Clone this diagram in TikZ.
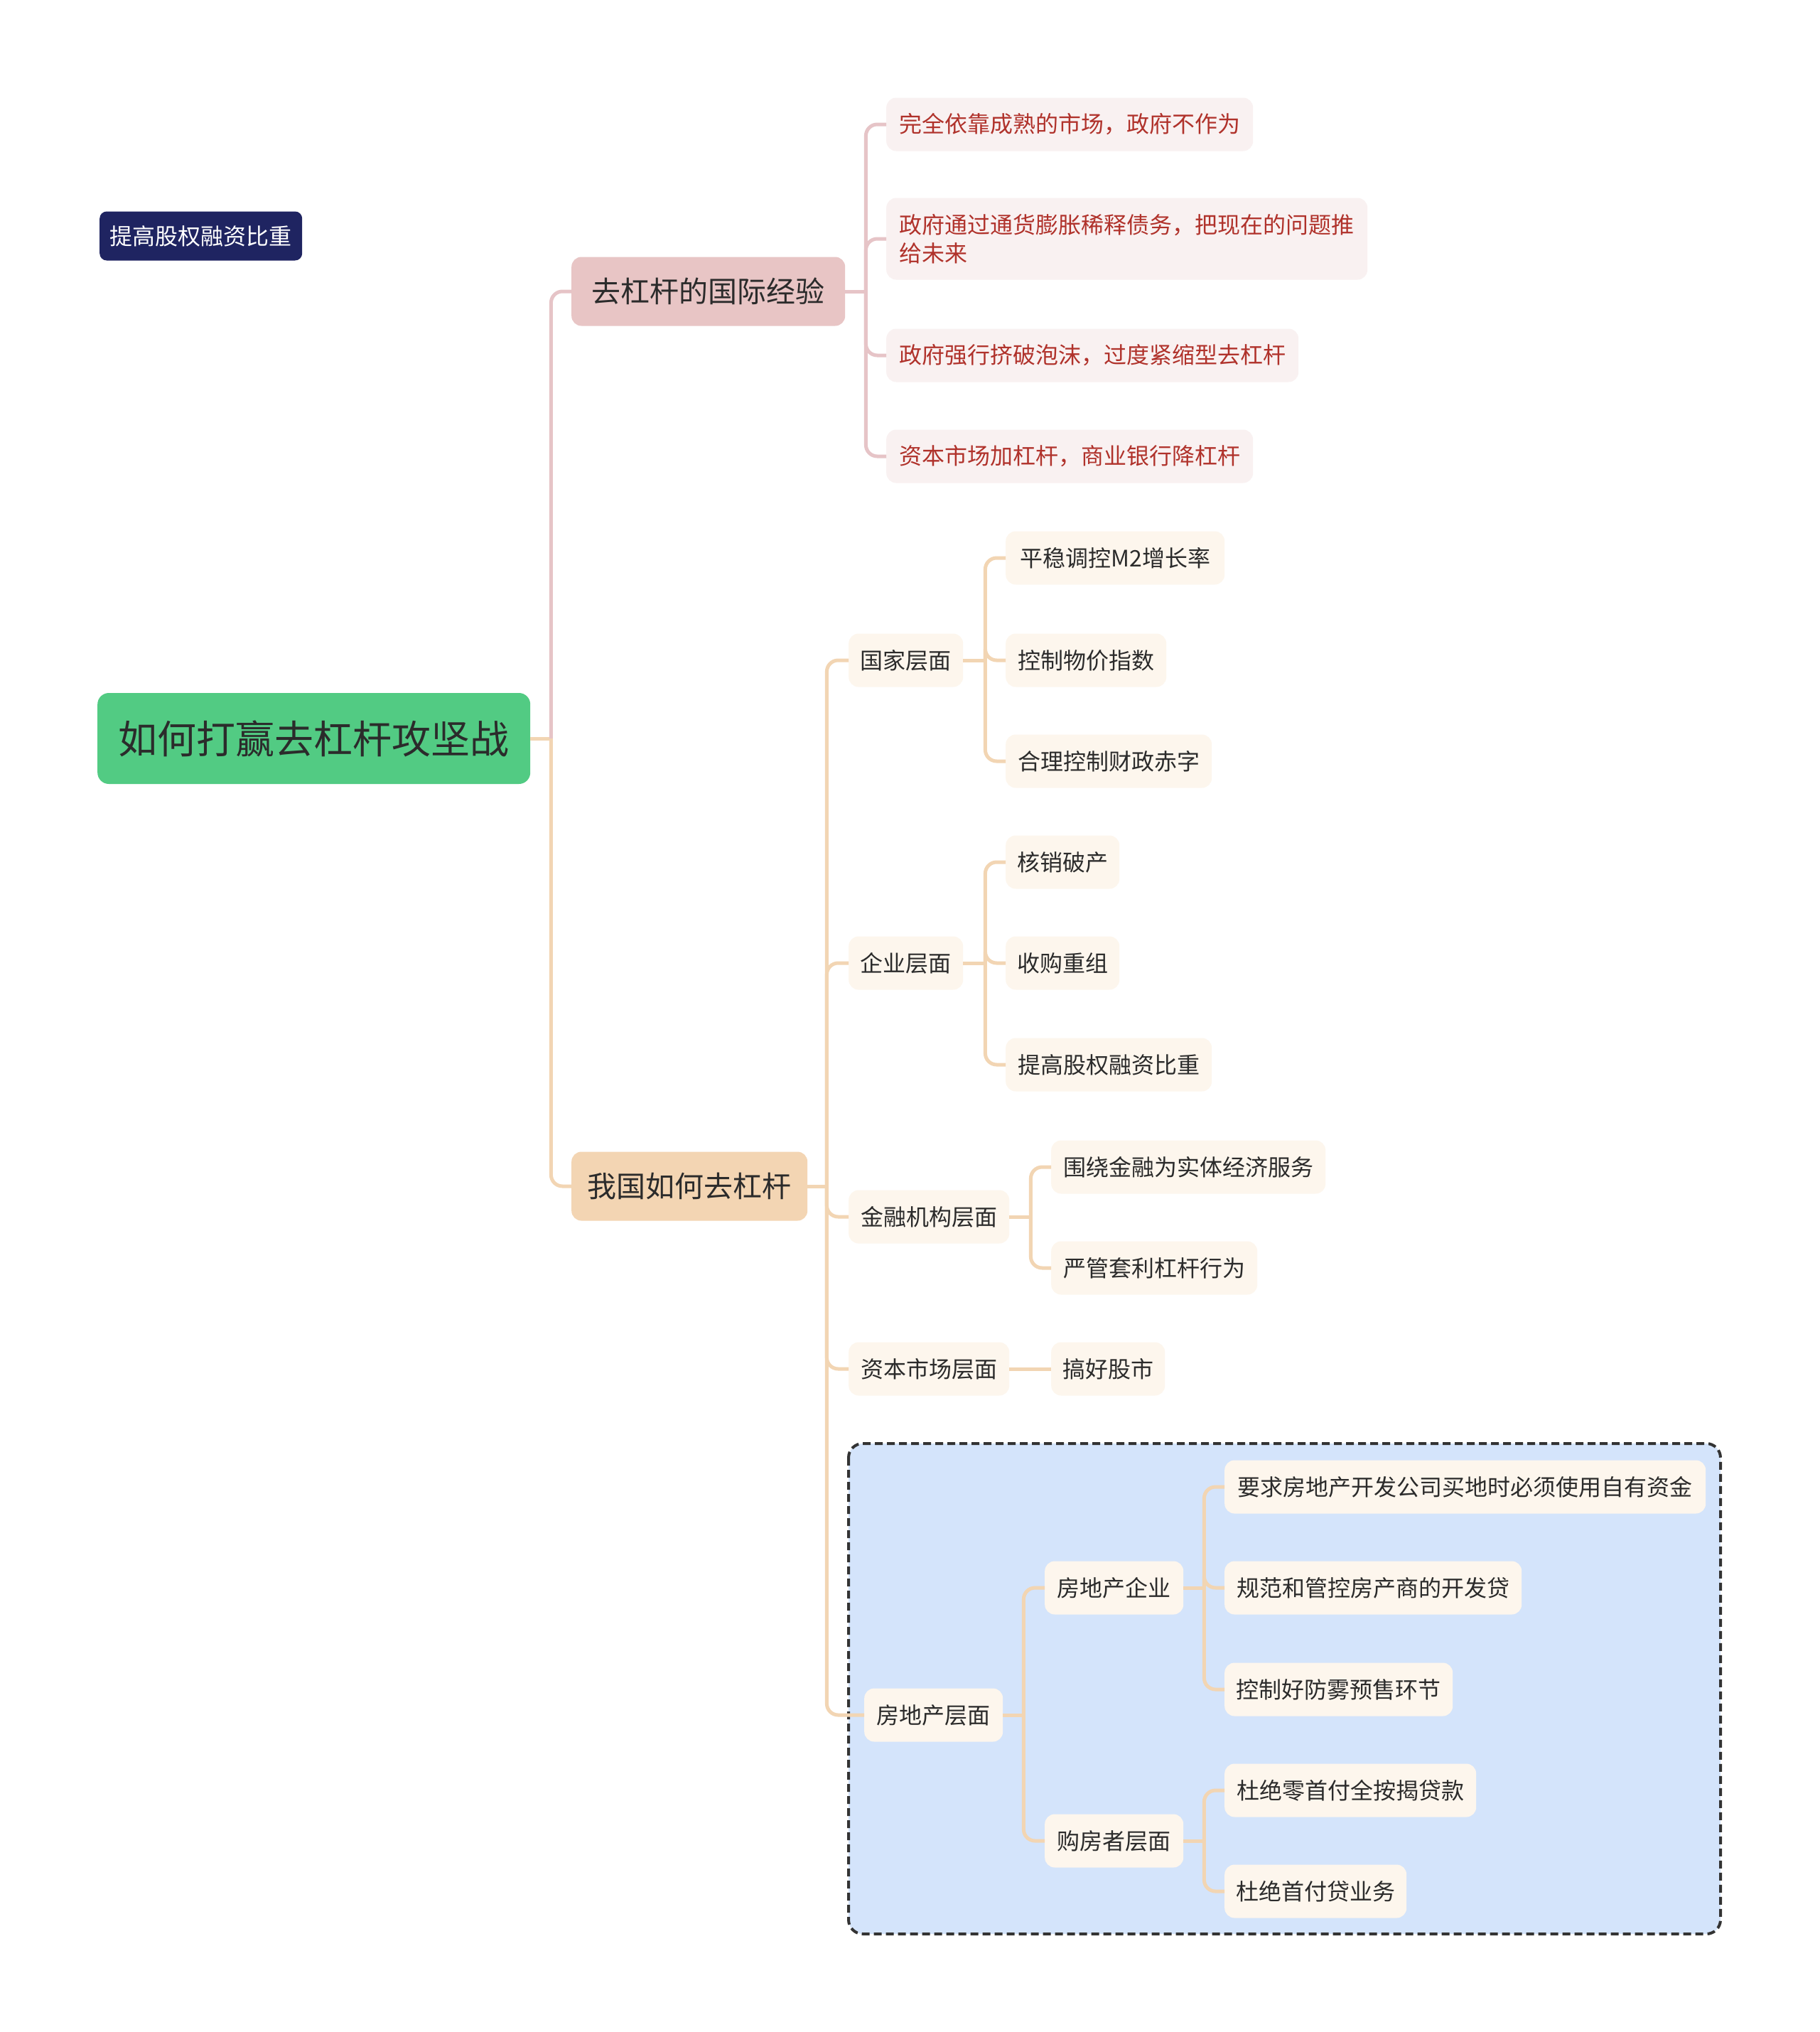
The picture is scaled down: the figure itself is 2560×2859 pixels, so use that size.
\documentclass[tikz,border=0pt]{standalone}
\usepackage{fontspec}
\setmainfont{Noto Sans CJK SC}
\definecolor{txt}{HTML}{2B2B2B}
\definecolor{rootg}{HTML}{52CB83}
\definecolor{navy}{HTML}{1F2461}
\definecolor{pinkL}{HTML}{E8C5C5}
\definecolor{peachL}{HTML}{F3D5B3}
\definecolor{pinkleaf}{HTML}{F9F1F1}
\definecolor{redtxt}{HTML}{B0322B}
\definecolor{cream}{HTML}{FDF6ED}
\definecolor{pinkline}{HTML}{E6C4C7}
\definecolor{peachline}{HTML}{F2D5B3}
\definecolor{bluebg}{HTML}{D4E4FB}
\definecolor{dashc}{HTML}{333333}
\begin{document}
\begin{tikzpicture}[x=1pt,y=-1pt,
  base/.style={anchor=west, rounded corners=14pt, inner sep=0pt, minimum height=75pt,
    font=\fontsize{32}{40}\selectfont, text=txt},
  leaf/.style={base, fill=cream},
  pleaf/.style={base, fill=pinkleaf, text=redtxt},
  pl/.style={line width=5pt, draw=pinkline, rounded corners=16pt},
  cl/.style={line width=5pt, draw=peachline, rounded corners=16pt}]
\useasboundingbox[fill=white] (0,0) rectangle (2560,2859);

% dashed frame
\draw[fill=bluebg, draw=dashc, line width=4pt, dash pattern=on 11pt off 6pt, rounded corners=20pt]
  (1194,2031) rectangle (2421,2721);

% nodes
\node[base, fill=navy, text=white, minimum width=285pt, minimum height=69pt, rounded corners=10pt] (fl) at (140,332) {提高股权融资比重};
\node[base, fill=rootg, minimum width=609pt, minimum height=128pt, rounded corners=16pt, font=\fontsize{55}{60}\selectfont] (root) at (137,1039) {如何打赢去杠杆攻坚战};
\node[base, fill=pinkL, minimum width=385pt, minimum height=97pt, font=\fontsize{41}{48}\selectfont] (intl) at (804,410) {去杠杆的国际经验};
\node[base, fill=peachL, minimum width=332pt, minimum height=97pt, font=\fontsize{41}{48}\selectfont] (cn) at (804,1669) {我国如何去杠杆};

\node[pleaf, minimum width=516pt] (p1) at (1247,175) {完全依靠成熟的市场，政府不作为};
\node[pleaf, minimum width=677pt, minimum height=115pt, text width=641pt, align=left] (p2) at (1247,336) {政府通过通货膨胀稀释债务，把现在的问题推\\给未来};
\node[pleaf, minimum width=580pt] (p3) at (1247,500) {政府强行挤破泡沫，过度紧缩型去杠杆};
\node[pleaf, minimum width=516pt] (p4) at (1247,642) {资本市场加杠杆，商业银行降杠杆};

\node[leaf, minimum width=161pt] (gj) at (1194,929) {国家层面};
\node[leaf, minimum width=161pt] (qy) at (1194,1355) {企业层面};
\node[leaf, minimum width=226pt] (jr) at (1194,1712) {金融机构层面};
\node[leaf, minimum width=226pt] (zb) at (1194,1926) {资本市场层面};
\node[leaf, minimum width=195pt] (fd) at (1216,2413) {房地产层面};

\node[leaf, minimum width=308pt] (g1) at (1415,785) {平稳调控M2增长率};
\node[leaf, minimum width=226pt] (g2) at (1415,929) {控制物价指数};
\node[leaf, minimum width=290pt] (g3) at (1415,1071) {合理控制财政赤字};
\node[leaf, minimum width=160pt] (q1) at (1415,1213) {核销破产};
\node[leaf, minimum width=160pt] (q2) at (1415,1355) {收购重组};
\node[leaf, minimum width=290pt] (q3) at (1415,1498) {提高股权融资比重};
\node[leaf, minimum width=386pt] (j1) at (1479,1642) {围绕金融为实体经济服务};
\node[leaf, minimum width=290pt] (j2) at (1479,1784) {严管套利杠杆行为};
\node[leaf, minimum width=160pt] (z1) at (1479,1926) {搞好股市};
\node[leaf, minimum width=195pt] (fq) at (1470,2234) {房地产企业};
\node[leaf, minimum width=195pt] (gf) at (1470,2590) {购房者层面};
\node[leaf, minimum width=677pt] (f1) at (1723,2092) {要求房地产开发公司买地时必须使用自有资金};
\node[leaf, minimum width=418pt] (f2) at (1723,2234) {规范和管控房产商的开发贷};
\node[leaf, minimum width=321pt] (f3) at (1723,2377) {控制好防雾预售环节};
\node[leaf, minimum width=354pt] (b1) at (1723,2519) {杜绝零首付全按揭贷款};
\node[leaf, minimum width=256pt] (b2) at (1723,2661) {杜绝首付贷业务};

% connectors
\draw[cl] (root.east) -- ++(29,0) coordinate (rT);
\draw[pl] (rT) |- (intl.west);
\draw[cl] (rT) |- (cn.west);

\draw[pl] (intl.east) -- ++(29,0) coordinate (iT);
\foreach \c in {p1,p2,p3,p4} \draw[pl] (iT) |- (\c.west);

\draw[cl] (cn.east) -- ++(27,0) coordinate (cT);
\foreach \c in {gj,qy,jr,zb,fd} \draw[cl] (cT) |- (\c.west);

\draw[cl] (gj.east) -- ++(31,0) coordinate (gT);
\foreach \c in {g1,g2,g3} \draw[cl] (gT) |- (\c.west);
\draw[cl] (qy.east) -- ++(31,0) coordinate (qT);
\foreach \c in {q1,q2,q3} \draw[cl] (qT) |- (\c.west);
\draw[cl] (jr.east) -- ++(30,0) coordinate (jT);
\foreach \c in {j1,j2} \draw[cl] (jT) |- (\c.west);
\draw[cl] (zb.east) -- (z1.west);
\draw[cl] (fd.east) -- ++(29,0) coordinate (fT);
\foreach \c in {fq,gf} \draw[cl] (fT) |- (\c.west);
\draw[cl] (fq.east) -- ++(29,0) coordinate (fqT);
\foreach \c in {f1,f2,f3} \draw[cl] (fqT) |- (\c.west);
\draw[cl] (gf.east) -- ++(29,0) coordinate (gfT);
\foreach \c in {b1,b2} \draw[cl] (gfT) |- (\c.west);
\end{tikzpicture}
\end{document}
